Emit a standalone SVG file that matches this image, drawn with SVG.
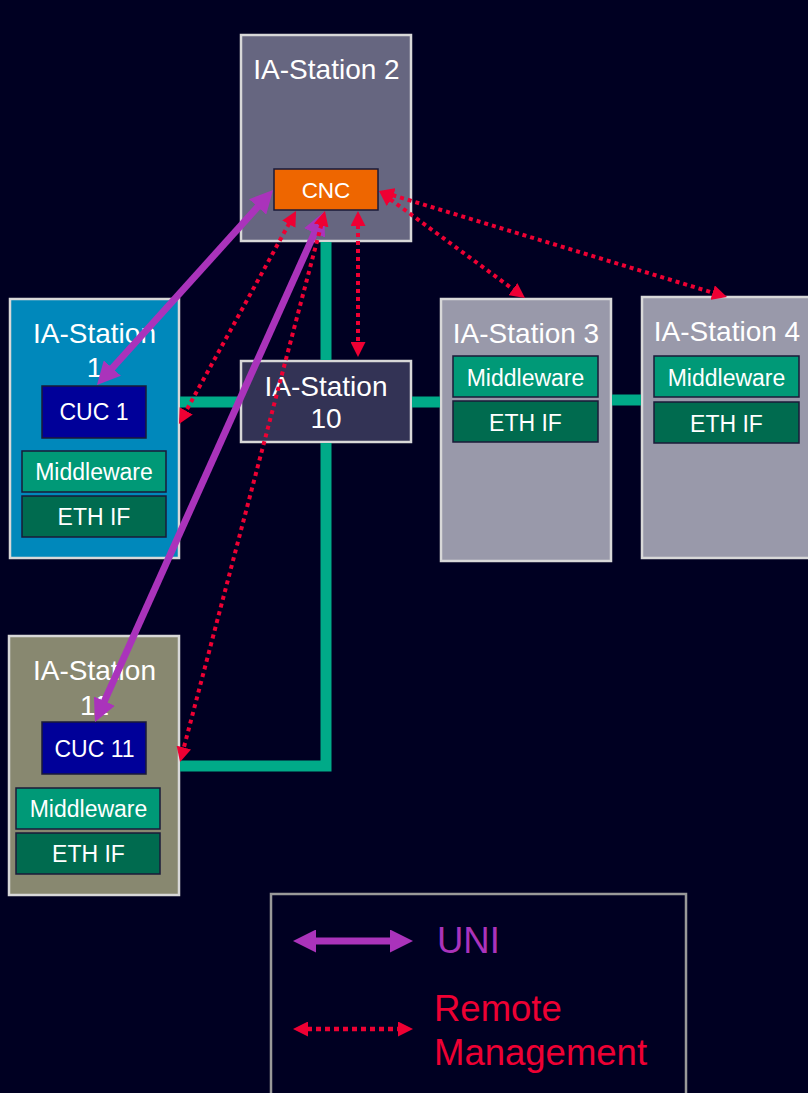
<svg xmlns="http://www.w3.org/2000/svg" width="808" height="1093" viewBox="0 0 808 1093">
<style>
text{font-family:"Liberation Sans",Arial,sans-serif;fill:#ffffff;text-anchor:middle}
.st{stroke:#d8d8d8;stroke-width:2.5}
.title{font-size:28px}
.lbl{font-size:23px}
.box{stroke:#1a1a38;stroke-width:1.5}
.cuc{fill:#000099}
.mw{fill:#009977}
.eth{fill:#006b4f}
.eth-link{stroke:#00aa88;stroke-width:11;fill:none;stroke-linejoin:miter}
.uni{stroke:#aa33bb;stroke-width:7;fill:none;marker-start:url(#pa);marker-end:url(#pa)}
.rm{stroke:#ee0033;stroke-width:4;stroke-dasharray:4 4;fill:none;marker-start:url(#ra);marker-end:url(#ra)}
.leg{font-size:36.5px;text-anchor:start}
</style>
<defs>
<marker id="pa" markerUnits="userSpaceOnUse" markerWidth="23" markerHeight="23" refX="2" refY="11.5" orient="auto-start-reverse" viewBox="0 0 23 23">
<path d="M0,0 L23,11.5 L0,23 z" fill="#aa33bb"/>
</marker>
<marker id="ra" markerUnits="userSpaceOnUse" markerWidth="15" markerHeight="15" refX="1" refY="7.5" orient="auto-start-reverse" viewBox="0 0 15 15">
<path d="M0,0 L15,7.5 L0,15 z" fill="#ee0033"/>
</marker>
</defs>
<rect x="0" y="0" width="808" height="1093" fill="#000022"/>

<g id="station2">
<rect class="st" x="241" y="35" width="170" height="206" fill="#666680"/>
<text class="title" x="326.5" y="79">IA-Station 2</text>
</g>
<g id="cnc">
<rect class="box" x="274" y="169" width="104" height="41" fill="#ee6600"/>
<text x="326" y="198" style="font-size:22.5px">CNC</text>
</g>

<g id="station1">
<rect class="st" x="10" y="299" width="169" height="259" fill="#0088bb"/>
<text class="title" x="94.5" y="343">IA-Station</text>
<text class="title" x="94.5" y="377">1</text>
<rect class="box cuc" x="42" y="386" width="104" height="52"/>
<text class="lbl" x="94" y="420">CUC 1</text>
<rect class="box mw" x="22" y="451" width="144" height="41"/>
<text class="lbl" x="94" y="480">Middleware</text>
<rect class="box eth" x="22" y="496" width="144" height="41"/>
<text class="lbl" x="94" y="525">ETH IF</text>
</g>

<g id="station10">
<rect class="st" x="241" y="361" width="170" height="81" fill="#333355"/>
<text class="title" x="326" y="396">IA-Station</text>
<text class="title" x="326" y="428">10</text>
</g>

<g id="station3">
<rect class="st" x="441" y="299" width="170" height="262" fill="#9999aa"/>
<text class="title" x="526" y="343">IA-Station 3</text>
<rect class="box mw" x="453" y="356" width="145" height="41"/>
<text class="lbl" x="525.5" y="386">Middleware</text>
<rect class="box eth" x="453" y="401" width="145" height="41"/>
<text class="lbl" x="525.5" y="431">ETH IF</text>
</g>

<g id="station4">
<rect class="st" x="642" y="297" width="170" height="261" fill="#9999aa"/>
<text class="title" x="727" y="341">IA-Station 4</text>
<rect class="box mw" x="654" y="356" width="145" height="41"/>
<text class="lbl" x="726.5" y="386">Middleware</text>
<rect class="box eth" x="654" y="402" width="145" height="41"/>
<text class="lbl" x="726.5" y="432">ETH IF</text>
</g>

<g id="station11">
<rect class="st" x="9" y="636" width="170" height="259" fill="#888870"/>
<text class="title" x="94.5" y="680">IA-Station</text>
<text class="title" x="94.5" y="715">11</text>
<rect class="box cuc" x="42" y="722" width="104" height="52"/>
<text class="lbl" x="94.5" y="757">CUC 11</text>
<rect class="box mw" x="16" y="788" width="144" height="41"/>
<text class="lbl" x="88.5" y="817">Middleware</text>
<rect class="box eth" x="16" y="833" width="144" height="41"/>
<text class="lbl" x="88.5" y="862">ETH IF</text>
</g>

<g id="connectors">
<line class="eth-link" x1="326" y1="242" x2="326" y2="360"/>
<line class="eth-link" x1="180" y1="402" x2="240" y2="402"/>
<line class="eth-link" x1="412" y1="402" x2="440" y2="402"/>
<line class="eth-link" x1="612" y1="400" x2="641" y2="400"/>
<polyline class="eth-link" points="326,443 326,766 180,766"/>

<line class="uni" x1="259" y1="205.5" x2="111" y2="369.5"/>
<line class="uni" x1="315.4" y1="231.1" x2="103.6" y2="702.9"/>

<line class="rm" x1="289.3" y1="223.3" x2="185.7" y2="411.7"/>
<line class="rm" x1="321.4" y1="224.5" x2="183.6" y2="748.5"/>
<line class="rm" x1="358" y1="225" x2="358" y2="343"/>
<line class="rm" x1="390.3" y1="199.3" x2="513.7" y2="289.7"/>
<line class="rm" x1="392.4" y1="195.1" x2="713.6" y2="292.9"/>
</g>

<g id="legend">
<rect x="271" y="894" width="415" height="210" fill="none" stroke="#999999" stroke-width="2.5"/>
<line class="uni" x1="314" y1="941" x2="392" y2="941"/>
<text class="leg" x="437" y="953" style="fill:#aa33bb">UNI</text>
<line class="rm" x1="307" y1="1029" x2="399" y2="1029" style="stroke-width:4.5;stroke-dasharray:5 4"/>
<text class="leg" x="434" y="1021" style="fill:#ee0033">Remote</text>
<text class="leg" x="434" y="1065" style="fill:#ee0033">Management</text>
</g>
</svg>
